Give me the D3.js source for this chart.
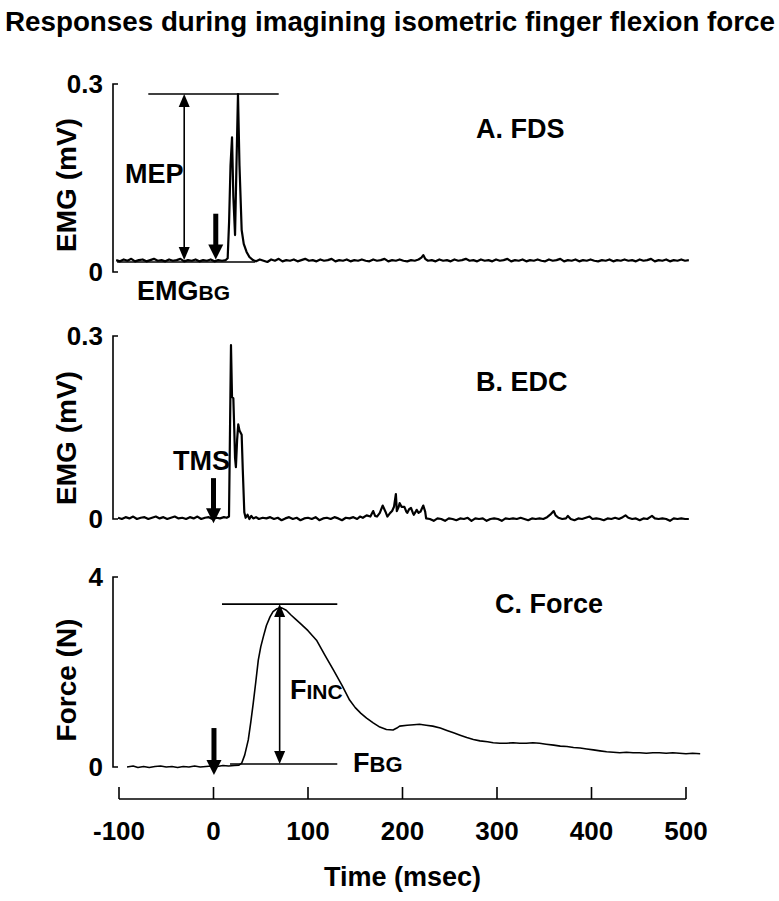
<!DOCTYPE html>
<html lang="en">
<head>
    <meta charset="UTF-8">
    <title>Responses during imagining isometric finger flexion force</title>
    <script src="https://d3js.org/d3.v7.min.js"></script>
    <style>
        body { margin: 0; background: #fff; }
        text { font-family: "Liberation Sans", Arial, sans-serif; font-weight: bold; fill: #000; }
    </style>
</head>
<body>
<svg width="779" height="901"></svg>
<script>
    // time axis (msec)
    const xTicks = [-100, 0, 100, 200, 300, 400, 500];
    const emgTicks = [0, 0.3];
    const forceTicks = [0, 4];
    const panelNames = ["A. FDS", "B. EDC", "C. Force"];
    const yTitles = ["EMG (mV)", "EMG (mV)", "Force (N)"];

    // A. FDS EMG, [msec, mV]
    const fdsTrace = [
        [-103,.019],[-99,.017],[-95,.02],[-91,.018],[-87,.021],[-83,.017],[-79,.019],[-75,.02],[-71,.017],[-67,.019],
        [-63,.021],[-59,.018],[-55,.019],[-51,.017],[-47,.02],[-43,.018],[-39,.019],[-35,.021],[-31,.017],[-27,.019],
        [-23,.018],[-19,.02],[-15,.017],[-11,.019],[-7,.018],[-3,.02],[1,.017],[5,.019],[9,.018],[13,.019],
        [15,.022],[16.5,.08],[18,.17],[19.6,.215],[21,.12],[22.8,.059],[24.3,.17],[25.9,.284],[27.5,.17],[29.8,.067],
        [32,.045],[35,.032],[38,.024],[41.8,.019],
        [45,.017],[49,.02],[53,.018],[57,.016],[61,.02],[65,.018],[69,.021],[73,.017],[77,.019],[81,.018],
        [85,.02],[89,.017],[93,.019],[97,.021],[101,.018],[105,.019],[109,.017],[113,.02],[117,.018],[121,.019],
        [125,.021],[129,.017],[133,.019],[137,.018],[141,.02],[145,.017],[149,.019],[153,.018],[157,.02],[161,.018],
        [165,.017],[169,.02],[173,.018],[177,.019],[181,.021],[185,.017],[189,.019],[193,.018],[197,.02],[201,.018],
        [205,.017],[209,.019],[213,.018],[217,.02],[220,.023],[222,.027],[224,.021],[227,.018],[231,.019],[235,.017],
        [239,.02],[243,.018],[247,.019],[251,.017],[255,.02],[259,.018],[263,.019],[267,.021],[271,.018],[275,.019],
        [279,.017],[283,.02],[287,.018],[291,.019],[295,.017],[299,.02],[303,.018],[307,.019],[311,.021],[315,.017],
        [319,.019],[323,.018],[327,.02],[331,.017],[335,.019],[339,.018],[343,.02],[347,.018],[351,.017],[355,.02],
        [359,.018],[363,.019],[367,.021],[371,.017],[375,.019],[379,.018],[383,.02],[387,.017],[391,.019],[395,.018],
        [399,.02],[403,.018],[407,.017],[411,.019],[415,.018],[419,.02],[423,.017],[427,.019],[431,.018],[435,.02],
        [439,.018],[443,.019],[447,.017],[451,.02],[455,.018],[459,.019],[463,.021],[467,.017],[471,.019],[475,.018],
        [479,.02],[483,.017],[487,.019],[491,.018],[495,.02],[499,.018],[503,.019]
    ];

    // B. EDC EMG, [msec, mV]
    const edcTrace = [
        [-101,.002],[-97,0],[-93,.003],[-89,.001],[-85,.004],[-81,0],[-77,.002],[-73,.003],[-69,0],[-65,.002],
        [-61,.004],[-57,.001],[-53,.003],[-49,0],[-45,.002],[-41,.004],[-37,.001],[-33,.002],[-29,0],[-25,.003],
        [-21,.001],[-17,.004],[-13,0],[-9,.002],[-5,.003],[-1,0],[3,.002],[7,.001],[11,.003],[14,.002],
        [16.4,.004],[17.5,.15],[18.5,.285],[19.6,.2],[21,.198],[22,.146],[22.8,.1],[23.7,.085],[25,.13],[26.2,.155],
        [27.5,.145],[29.8,.138],[31,.08],[32.6,.011],
        [34,.002],[36,.007],[38,0],[40,.005],[42,.001],[45,.003],[48,0],[52,.002],[56,.001],[60,.003],
        [64,0],[68,.002],[72,-.002],[76,.001],[80,.003],[84,0],[88,.002],[92,-.002],[96,.001],[100,.002],
        [104,0],[108,.003],[112,-.002],[116,.001],[120,.002],[124,0],[128,.003],[132,.001],[136,-.002],[140,.002],
        [144,.001],[148,.003],[152,0],[155,.004],[158,.002],[162,.006],[166,.004],[169,.013],[171,.005],[173,.004],
        [176,.01],[179,.022],[182,.012],[184,.004],[187,.01],[189,.013],[191,.02],[193,.041],[194,.013],[196,.02],
        [197,.026],[199,.02],[202,.02],[204,.012],[205,.01],[207,.016],[209,.018],[211,.01],[212,.007],[214,.012],
        [215,.015],[217,.01],[219,.012],[222,.022],[224,.012],[225,.001],[229,0],[233,-.003],[237,.001],[241,0],
        [245,-.003],[249,.001],[253,0],[257,-.002],[261,.001],[265,0],[269,.002],[273,-.003],[277,.001],[281,0],
        [285,.001],[289,-.003],[293,0],[297,.001],[301,0],[305,-.003],[309,.001],[313,0],[317,.001],[321,0],
        [325,.002],[329,0],[333,-.002],[337,.001],[341,0],[345,.001],[349,0],[353,.003],[357,.008],[360,.013],
        [362,.006],[365,.002],[369,0],[373,.001],[375,.005],[378,0],[382,-.002],[386,.001],[390,0],[394,.002],
        [398,.004],[401,0],[405,.001],[409,0],[413,-.002],[417,.001],[421,0],[425,.002],[429,0],[433,.003],
        [436,.006],[439,.002],[443,0],[447,.001],[451,-.002],[455,.001],[459,0],[462,.003],[464,.005],[467,.001],
        [471,0],[475,.001],[479,0],[483,-.003],[487,.001],[491,0],[495,.001],[499,0],[503,0]
    ];

    // C. Force, [msec, N]
    const forceTrace = [
        [-91.5,0],[-85,.02],[-80,-.01],[-74,.01],[-68,-.01],[-62,.01],[-56,.02],[-50,0],[-44,.01],[-38,-.01],
        [-32,.01],[-26,0],[-20,.02],[-14,0],[-8,.01],[-2,.02],[4,.01],[10,.03],[16,.02],[22,.03],
        [27,.04],[29.8,.08],[33,.25],[36.8,.57],[39.5,.95],[42.1,1.35],[44.8,1.8],[47.4,2.25],[50,2.53],[52.7,2.74],
        [56,2.98],[59.8,3.16],[63,3.27],[66.9,3.33],[72.2,3.35],[77,3.3],[82,3.2],[86.5,3.12],[91.5,3.03],[100,2.87],
        [109,2.67],[118,2.35],[127,2.04],[136,1.72],[144,1.41],[150,1.25],[156,1.13],[162,1.03],[169,.93],[176,.84],
        [183,.79],[190,.78],[194,.82],[197,.86],[205,.88],[212,.89],[218,.9],[225,.88],[232,.86],[240,.82],
        [247,.77],[254,.72],[261,.67],[268,.62],[275,.58],[282,.55],[290,.53],[296,.51],[303,.5],[310,.5],
        [317,.51],[324,.5],[331,.5],[338,.51],[345,.5],[352,.48],[360,.46],[367,.44],[374,.43],[381,.41],
        [388,.4],[395,.38],[402,.36],[409,.34],[416,.32],[423,.31],[430,.3],[437,.31],[444,.3],[451,.3],
        [458,.29],[465,.3],[472,.3],[479,.29],[486,.3],[493,.29],[500,.28],[507,.29],[515,.28]
    ];

    const svg = d3.select("svg");

    const x = d3.scaleLinear().domain([-100, 500]).range([119, 686]);

    const panels = [
        { trace: fdsTrace, y: d3.scaleLinear().domain([0, 0.3]).range([272, 84]), ticks: emgTicks,
          nameX: 476, nameY: 138, titleY: 185, width: 2.2 },
        { trace: edcTrace, y: d3.scaleLinear().domain([0, 0.3]).range([519, 336]), ticks: emgTicks,
          nameX: 476, nameY: 391, titleY: 438, width: 2.2 },
        { trace: forceTrace, y: d3.scaleLinear().domain([0, 4]).range([767, 577]), ticks: forceTicks,
          nameX: 495, nameY: 613, titleY: 680, width: 1.6 }
    ];

    // title
    svg.append("text")
        .attr("x", 5).attr("y", 31)
        .attr("font-size", 27)
        .attr("textLength", 770).attr("lengthAdjust", "spacingAndGlyphs")
        .text("Responses during imagining isometric finger flexion force");

    panels.forEach(function(p, i) {
        const g = svg.append("g");
        const y = p.y;
        const [y0, y1] = y.range();

        // y axis bracket
        g.append("path")
            .attr("d", "M118," + y1 + "H113V" + y0 + "H118")
            .attr("fill", "none").attr("stroke", "#000").attr("stroke-width", 1.6);

        g.selectAll(".tick-label")
            .data(p.ticks)
            .enter().append("text")
            .attr("x", 103)
            .attr("y", d => y(d) + 9)
            .attr("text-anchor", "end")
            .attr("font-size", 26)
            .text(d => String(d));

        g.append("text")
            .attr("transform", "translate(76," + p.titleY + ") rotate(-90)")
            .attr("text-anchor", "middle")
            .attr("font-size", 28)
            .text(yTitles[i]);

        g.append("text")
            .attr("x", p.nameX).attr("y", p.nameY)
            .attr("font-size", 27)
            .text(panelNames[i]);

        const line = d3.line().x(d => x(d[0])).y(d => y(d[1]));
        g.append("path")
            .datum(p.trace)
            .attr("d", line)
            .attr("fill", "none")
            .attr("stroke", "#000")
            .attr("stroke-width", p.width)
            .attr("stroke-linejoin", "round");
    });

    // helpers for annotations
    function hline(y, v, t0, t1) {
        svg.append("line")
            .attr("x1", x(t0)).attr("x2", x(t1))
            .attr("y1", y(v)).attr("y2", y(v))
            .attr("stroke", "#000").attr("stroke-width", 1.6);
    }
    function doubleArrow(y, t, v0, v1) {
        const xx = x(t), top = y(v1), bot = y(v0);
        svg.append("line")
            .attr("x1", xx).attr("x2", xx).attr("y1", top + 6).attr("y2", bot - 6)
            .attr("stroke", "#000").attr("stroke-width", 1.6);
        svg.append("path")
            .attr("d", `M${xx},${top}L${xx - 5.5},${top + 13}L${xx + 5.5},${top + 13}Z`);
        svg.append("path")
            .attr("d", `M${xx},${bot}L${xx - 5.5},${bot - 13}L${xx + 5.5},${bot - 13}Z`);
    }
    function tmsArrow(y, t, vTop, vTip) {
        const xx = x(t), top = y(vTop), tip = y(vTip);
        svg.append("rect")
            .attr("x", xx - 2.5).attr("y", top).attr("width", 5).attr("height", tip - top - 12);
        svg.append("path")
            .attr("d", `M${xx},${tip}L${xx - 7.5},${tip - 15}L${xx + 7.5},${tip - 15}Z`);
    }
    function label(px, py, parts) {
        const t = svg.append("text").attr("x", px).attr("y", py);
        parts.forEach(q => t.append("tspan").attr("font-size", q[1]).text(q[0]));
    }

    const yA = panels[0].y, yB = panels[1].y, yC = panels[2].y;

    // A annotations
    hline(yA, 0.284, -69, 69);
    hline(yA, 0.016, -102, 44);
    doubleArrow(yA, -31, 0.019, 0.284);
    tmsArrow(yA, 2.4, 0.093, 0.02);
    label(125, 183, [["MEP", 27]]);
    label(137, 300, [["EMG", 27], ["BG", 21]]);

    // B annotations
    tmsArrow(yB, 0, 0.067, -0.007);
    label(173, 470, [["TMS", 27]]);

    // C annotations
    hline(yC, 3.43, 9, 131);
    hline(yC, 0.063, 17.5, 131);
    doubleArrow(yC, 70, 0.063, 3.43);
    tmsArrow(yC, 0.5, 0.82, -0.17);
    label(290, 699, [["F", 27], ["INC", 21]]);
    label(353, 772, [["F", 27], ["BG", 22]]);

    // x axis
    const ax = svg.append("g");
    ax.append("line")
        .attr("x1", x(-100)).attr("x2", x(500))
        .attr("y1", 799).attr("y2", 799)
        .attr("stroke", "#000").attr("stroke-width", 1.6);
    ax.selectAll(".xt")
        .data(xTicks)
        .enter().append("line")
        .attr("x1", d => x(d)).attr("x2", d => x(d))
        .attr("y1", 799).attr("y2", 787)
        .attr("stroke", "#000").attr("stroke-width", 1.6);
    ax.selectAll(".xl")
        .data(xTicks)
        .enter().append("text")
        .attr("x", d => x(d)).attr("y", 840)
        .attr("text-anchor", "middle")
        .attr("font-size", 26)
        .text(d => String(d));
    ax.append("text")
        .attr("x", (x(-100) + x(500)) / 2).attr("y", 886)
        .attr("text-anchor", "middle")
        .attr("font-size", 27)
        .text("Time (msec)");
</script>
</body>
</html>
